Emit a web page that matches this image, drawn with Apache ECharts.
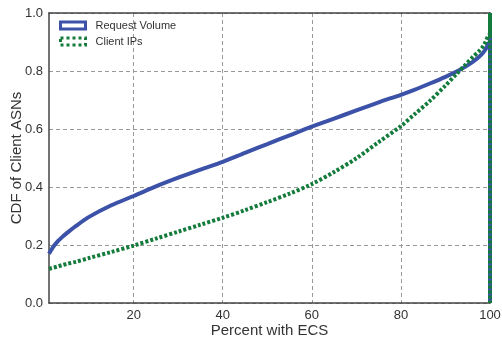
<!DOCTYPE html>
<html><head><meta charset="utf-8">
<script src="https://cdn.jsdelivr.net/npm/echarts@6/dist/echarts.min.js"></script>
<style>html,body{margin:0;padding:0;background:#fff}#c{width:502px;height:339px}</style>
</head><body><div id="c"></div>
<script>
const xPercent = [1,1.5,2,3,4,5,7,10,15,20,25,30,35,40,45,50,55,60,65,70,75,80,83,86.5,90,92.5,94.5,96.2,97.5,98.4,99,99.5,100,100,100];
const requestVolume = [0.170,0.183,0.195,0.213,0.228,0.241,0.265,0.297,0.337,0.369,0.402,0.432,0.460,0.487,0.518,0.548,0.578,0.608,0.636,0.664,0.692,0.718,0.735,0.757,0.780,0.798,0.815,0.832,0.848,0.862,0.875,0.890,0.905,1.0,0.0];
const clientIPs = [0.118,0.120,0.122,0.126,0.131,0.135,0.142,0.155,0.176,0.198,0.222,0.246,0.270,0.294,0.320,0.348,0.377,0.410,0.452,0.499,0.555,0.610,0.650,0.697,0.750,0.790,0.822,0.849,0.868,0.884,0.900,0.918,0.930,1.0,0.0];
const xTicks = [20,40,60,80,100];
const yTicks = [0,0.2,0.4,0.6,0.8,1.0];

const FONT = '"Liberation Sans", Arial, sans-serif';
const BLUE = '#3B52A8', GREEN = '#137B3B';
const chart = echarts.init(document.getElementById('c'), null, {renderer:'canvas'});
const pair = (ys) => xPercent.map((x,i)=>[x, ys[i]]);
chart.setOption({
  animation:false,
  backgroundColor:'#fff',
  grid:{left:49, right:12, top:13, bottom:36, outerBoundsMode:'none', containLabel:false},
  legend:{
    orient:'vertical', left:59, top:20, padding:0, itemWidth:25, itemHeight:7, itemGap:5,
    textStyle:{fontFamily:FONT, fontSize:11, color:'#333', padding:[0,0,0,5]},
    data:[
      {name:'Request Volume', icon:'rect', itemStyle:{color:'rgba(0,0,0,0)', borderColor:BLUE, borderWidth:3}},
      {name:'Client IPs', icon:'rect', itemStyle:{color:'rgba(0,0,0,0)', borderColor:GREEN, borderWidth:3, borderType:[3,3]}}
    ]
  },
  xAxis:[{
    type:'value', min:1, max:100,
    name:'Percent with ECS', nameLocation:'middle', nameGap:20, nameMoveOverlap:false,
    nameTextStyle:{fontFamily:FONT, fontSize:15, color:'#333'},
    axisLine:{show:true, lineStyle:{color:'#444', width:1.5}},
    axisTick:{show:false, customValues:xTicks},
    axisLabel:{fontFamily:FONT, fontSize:13, color:'#333', margin:6, customValues:xTicks},
    splitLine:{show:true, lineStyle:{color:'#999', type:[4,3], width:1}}
  },{
    type:'value', min:1, max:100, position:'top',
    axisLine:{show:true, onZero:false, lineStyle:{color:'#444', width:1.5}},
    axisTick:{show:false}, axisLabel:{show:false}, splitLine:{show:false}
  }],
  yAxis:[{
    type:'value', min:0, max:1, interval:0.2,
    name:'CDF of Client ASNs', nameLocation:'middle', nameGap:25, nameMoveOverlap:false,
    nameTextStyle:{fontFamily:FONT, fontSize:15, color:'#333'},
    axisLine:{show:true, lineStyle:{color:'#444', width:1.5}},
    axisTick:{show:false},
    axisLabel:{fontFamily:FONT, fontSize:13, color:'#333', margin:6, formatter:(v)=>v.toFixed(1)},
    splitLine:{show:true, lineStyle:{color:'#999', type:[4,3], width:1}}
  },{
    type:'value', min:0, max:1, position:'right',
    axisLine:{show:true, onZero:false, lineStyle:{color:'#444', width:1.5}},
    axisTick:{show:false}, axisLabel:{show:false}, splitLine:{show:false}
  }],
  series:[
    {name:'Request Volume', type:'line', data:pair(requestVolume), showSymbol:false, symbol:'none', smooth:0.3,
     lineStyle:{color:BLUE, width:4}, itemStyle:{color:BLUE}, z:3},
    {name:'Client IPs', type:'line', data:pair(clientIPs), showSymbol:false, symbol:'none', smooth:0.3,
     lineStyle:{color:GREEN, width:4, type:[3,2]}, itemStyle:{color:GREEN}, z:4}
  ]
});
</script></body></html>
